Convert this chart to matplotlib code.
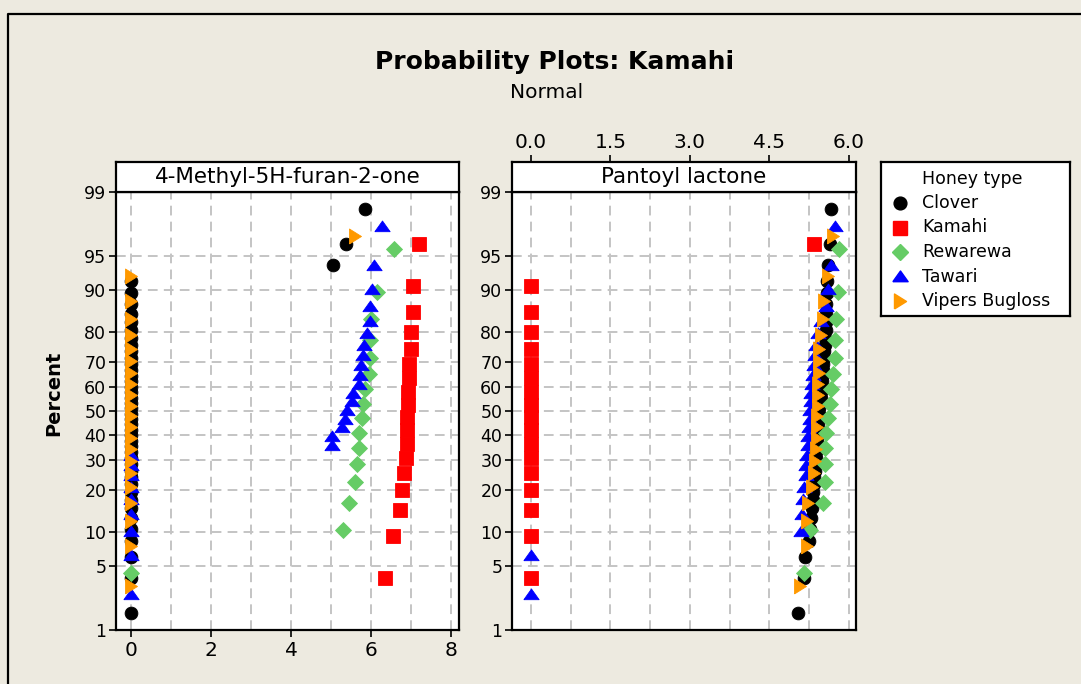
import math
from statistics import NormalDist

import numpy as np
import matplotlib
matplotlib.use("Agg")
import matplotlib.pyplot as plt
from matplotlib.lines import Line2D

# ---------------------------------------------------------------------------
# Data: sorted observations per honey type for each compound
# ---------------------------------------------------------------------------
honey_types = ["Clover", "Kamahi", "Rewarewa", "Tawari", "Vipers Bugloss"]

methyl_clover = [0.0] * 41 + [5.05, 5.38, 5.85]
methyl_kamahi = [6.35, 6.56, 6.73, 6.78, 6.83, 6.87, 6.89, 6.90, 6.91,
                 6.92, 6.93, 6.96, 6.96, 6.99, 6.99, 7.05, 7.06, 7.21]
methyl_rewarewa = [0.0, 5.31, 5.46, 5.60, 5.66, 5.69, 5.71, 5.77, 5.81,
                   5.86, 5.95, 5.97, 5.98, 6.00, 6.16, 6.58]
methyl_tawari = [0.0] * 9 + [5.02, 5.03, 5.27, 5.35, 5.41, 5.52, 5.56, 5.70,
                             5.73, 5.75, 5.79, 5.82, 5.89, 5.97, 5.98, 6.02,
                             6.08, 6.27]
methyl_vipers = [0.0] * 21 + [5.60]

pantoyl_clover = [5.04, 5.15, 5.18, 5.25, 5.27, 5.29, 5.30, 5.32, 5.33, 5.34,
                  5.35, 5.36, 5.37, 5.38, 5.38, 5.39, 5.40, 5.41, 5.42, 5.43,
                  5.43, 5.44, 5.45, 5.46, 5.47, 5.47, 5.48, 5.49, 5.50, 5.51,
                  5.52, 5.53, 5.54, 5.55, 5.56, 5.57, 5.57, 5.58, 5.58, 5.59,
                  5.60, 5.61, 5.64, 5.67]
pantoyl_kamahi = [0.0] * 17 + [5.35]
pantoyl_rewarewa = [5.15, 5.28, 5.51, 5.55, 5.56, 5.56, 5.57, 5.61, 5.65,
                    5.67, 5.71, 5.74, 5.74, 5.77, 5.80, 5.82]
pantoyl_tawari = [0.0, 0.0, 5.11, 5.12, 5.13, 5.16, 5.19, 5.20, 5.21, 5.23,
                  5.24, 5.25, 5.27, 5.28, 5.29, 5.29, 5.31, 5.33, 5.35, 5.37,
                  5.39, 5.42, 5.48, 5.57, 5.61, 5.67, 5.74]
pantoyl_vipers = [5.08, 5.21, 5.22, 5.24, 5.31, 5.35, 5.37, 5.39, 5.40, 5.41,
                  5.41, 5.42, 5.42, 5.43, 5.44, 5.44, 5.45, 5.48, 5.51, 5.53,
                  5.61, 5.70]

panel_titles = ["4-Methyl-5H-furan-2-one", "Pantoyl lactone"]
panel_data = [
    [methyl_clover, methyl_kamahi, methyl_rewarewa, methyl_tawari, methyl_vipers],
    [pantoyl_clover, pantoyl_kamahi, pantoyl_rewarewa, pantoyl_tawari, pantoyl_vipers],
]

percent_ticks = [1, 5, 10, 20, 30, 40, 50, 60, 70, 80, 90, 95, 99]
grid_percents = [5, 10, 20, 30, 40, 50, 60, 70, 80, 90, 95]
left_xticks = [0, 2, 4, 6, 8]
right_xticks = [0.0, 1.5, 3.0, 4.5, 6.0]
right_xticklabels = ["0.0", "1.5", "3.0", "4.5", "6.0"]

# ---------------------------------------------------------------------------
# Styling
# ---------------------------------------------------------------------------
# flattened up-triangle and narrow right-pointing triangle
tri_up = [(-1.0, -0.55), (1.0, -0.55), (0.0, 0.85), (-1.0, -0.55)]
tri_right = [(-0.8, -1.0), (-0.8, 1.0), (0.8, 0.0), (-0.8, -1.0)]

styles = {
    "Clover":         dict(marker="o", color="#000000", ms=9.2),
    "Kamahi":         dict(marker="s", color="#FF0000", ms=9.4),
    "Rewarewa":       dict(marker="D", color="#66CC66", ms=7.9),
    "Tawari":         dict(marker=tri_up, color="#0000FF", ms=11.0),
    "Vipers Bugloss": dict(marker=tri_right, color="#FF9900", ms=10.8),
}
BG = "#EDEAE0"
GRID = "#C4C4C4"
plt.rcParams["font.family"] = ["DejaVu Sans"]

# Normal probability scale (percent <-> standard normal quantile)
_nd = NormalDist()
_ppf = np.vectorize(lambda p: _nd.inv_cdf(min(max(p / 100.0, 1e-9), 1 - 1e-9)),
                    otypes=[float])
_cdf = np.vectorize(lambda z: 50.0 * (1.0 + math.erf(z / math.sqrt(2.0))),
                    otypes=[float])


def forward(p):
    return _ppf(np.asarray(p, dtype=float))


def inverse(z):
    return _cdf(np.asarray(z, dtype=float))


def plotting_positions(n):
    # median-rank plotting positions in percent
    i = np.arange(1, n + 1)
    return 100.0 * (i - 0.3) / (n + 0.4)


W, H = 1081, 684
fig = plt.figure(figsize=(W / 100, H / 100), dpi=100, facecolor=BG)


def fx(px):
    return px / W


def fy(py):
    return 1 - py / H


# outer frame (left and top edges)
fig.add_artist(Line2D([fx(8), fx(8), fx(W + 5)], [fy(H + 5), fy(14), fy(14)],
                      transform=fig.transFigure, color="black", lw=1.6))

fig.text(fx(555), fy(62), "Probability Plots: Kamahi", ha="center", va="center",
         fontsize=18, fontweight="bold")
fig.text(fx(547), fy(93), "Normal", ha="center", va="center", fontsize=14.5)
fig.text(fx(54), fy(393), "Percent", ha="center", va="center", rotation=90,
         fontsize=14, fontweight="bold")

panel_px = [(116, 459), (512, 856)]
xlims = [(-0.375, 8.2), (-0.36, 6.14)]
top, bottom, head_top = 192, 630, 162

for k, ((x0, x1), xl) in enumerate(zip(panel_px, xlims)):
    ax = fig.add_axes([fx(x0), fy(bottom), (x1 - x0) / W, (bottom - top) / H])
    ax.set_facecolor("white")
    ax.set_yscale("function", functions=(forward, inverse))
    ax.set_ylim(1, 99)
    ax.set_xlim(*xl)

    # dashed grid
    step = 1.0 if k == 0 else 0.75
    for gx in np.arange(0, xl[1] + 1e-9, step):
        ax.axvline(gx, color=GRID, lw=1.4, dashes=(5, 3.2), zorder=0)
    for gp in grid_percents:
        ax.axhline(gp, color=GRID, lw=1.4, dashes=(5, 3.2), zorder=0)

    for name, vals in zip(honey_types, panel_data[k]):
        st = styles[name]
        v = np.sort(np.asarray(vals, dtype=float))
        ax.plot(v, plotting_positions(len(v)), linestyle="none",
                marker=st["marker"], ms=st["ms"], color=st["color"],
                mec=st["color"], mew=0.6, zorder=3, clip_on=False)

    ax.set_yticks(percent_ticks)
    ax.set_yticklabels([str(t) for t in percent_ticks])
    ax.yaxis.set_minor_locator(matplotlib.ticker.NullLocator())
    ax.tick_params(axis="y", direction="out", length=5, width=1.2,
                   labelsize=12.5, pad=2)
    for sp in ax.spines.values():
        sp.set_linewidth(1.6)

    if k == 0:
        ax.set_xticks(left_xticks)
        ax.set_xticklabels([str(t) for t in left_xticks])
        ax.tick_params(axis="x", direction="out", length=5, width=1.2,
                       labelsize=14.5, pad=3)
    else:
        ax.set_xticks([])

    # strip header
    hax = fig.add_axes([fx(x0), fy(top), (x1 - x0) / W, (top - head_top) / H])
    hax.set_facecolor("white")
    hax.set_xlim(*xl)
    hax.set_ylim(0, 1)
    hax.set_yticks([])
    for sp in hax.spines.values():
        sp.set_linewidth(1.6)
    hax.text(0.5, 0.5, panel_titles[k], transform=hax.transAxes,
             ha="center", va="center", fontsize=15.5)
    if k == 1:
        hax.xaxis.tick_top()
        hax.set_xticks(right_xticks)
        hax.set_xticklabels(right_xticklabels)
        hax.tick_params(axis="x", direction="out", length=5, width=1.2,
                        labelsize=14.5, pad=2)
    else:
        hax.set_xticks([])

# legend box
lx0, lx1, ly0, ly1 = 881, 1070, 162, 316
lax = fig.add_axes([fx(lx0), fy(ly1), (lx1 - lx0) / W, (ly1 - ly0) / H])
lax.set_facecolor("white")
lax.set_xlim(0, lx1 - lx0)
lax.set_ylim(ly1 - ly0, 0)
lax.set_xticks([])
lax.set_yticks([])
for sp in lax.spines.values():
    sp.set_linewidth(1.6)
lax.text(41, 17, "Honey type", ha="left", va="center", fontsize=12.5)
for j, name in enumerate(honey_types):
    st = styles[name]
    yy = 41 + j * 24.5
    lax.plot([19], [yy], linestyle="none", marker=st["marker"],
             ms=st["ms"], color=st["color"], mec=st["color"])
    lax.text(41, yy, name, ha="left", va="center", fontsize=12.5)

fig.savefig("out.png", dpi=100, facecolor=BG)
